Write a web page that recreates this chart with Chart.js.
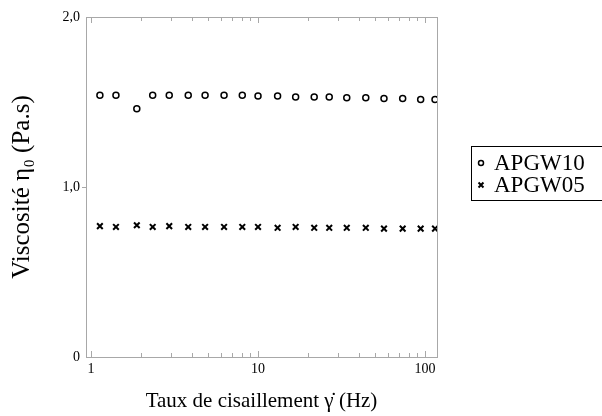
<!DOCTYPE html>
<html>
<head>
<meta charset="utf-8">
<script src="https://cdn.jsdelivr.net/npm/chart.js@4.4.0/dist/chart.umd.min.js"></script>
<style>
  html, body { margin: 0; padding: 0; background: #fff; }
  #wrap { width: 602px; height: 416px; position: relative; }
</style>
</head>
<body>
<div id="wrap"><canvas id="c"></canvas></div>
<script>
// Taux de cisaillement (Hz)
const taux = [1.13, 1.41, 1.88, 2.34, 2.94, 3.82, 4.82, 6.26, 8.05, 10.0,
              13.1, 16.8, 21.7, 26.7, 34.0, 44.2, 56.8, 73.5, 94.2, 114.8];
// Viscosité (Pa.s)
const apgw10 = [1.54, 1.54, 1.46, 1.54, 1.54, 1.54, 1.54, 1.54, 1.54, 1.535,
                1.535, 1.53, 1.53, 1.53, 1.525, 1.525, 1.52, 1.52, 1.515, 1.515];
const apgw05 = [0.77, 0.765, 0.775, 0.765, 0.77, 0.765, 0.765, 0.765, 0.765, 0.765,
                0.76, 0.765, 0.76, 0.76, 0.76, 0.76, 0.755, 0.755, 0.755, 0.755];
const nomsSeries = ['APGW10', 'APGW05'];
const xTicks = [1, 10, 100];
const yTicks = [0, 1, 2];
const yTickLabels = ['0', '1,0', '2,0'];

const POLICE = "'Liberation Serif', 'Times New Roman', serif";
const GRIS = '#a8a8a8';

function points(ys) {
    return ys.map((y, i) => ({ x: taux[i], y: y }));
}

// Cadre gris et petites graduations logarithmiques
const cadre = {
    id: 'cadre',
    beforeDatasetsDraw(chart) {
        const { ctx, chartArea: a, scales: { x, y } } = chart;
        ctx.save();
        ctx.strokeStyle = GRIS;
        ctx.lineWidth = 1;
        ctx.strokeRect(Math.round(a.left) + 0.5, Math.round(a.top) + 0.5,
                       Math.round(a.right - a.left), Math.round(a.bottom - a.top));
        ctx.beginPath();
        for (let dec = 1; dec <= 100; dec *= 10) {
            for (let k = 1; k <= 9; k++) {
                const v = k * dec;
                if (v > x.max) break;
                const px = Math.round(x.getPixelForValue(v)) + 0.5;
                const l = k === 1 ? 6 : 4;
                ctx.moveTo(px, a.bottom);
                ctx.lineTo(px, a.bottom - l);
                ctx.moveTo(px, a.top);
                ctx.lineTo(px, a.top + l);
            }
        }
        const py = Math.round(y.getPixelForValue(1)) + 0.5;
        ctx.moveTo(a.left - 4, py);
        ctx.lineTo(a.left, py);
        ctx.stroke();
        ctx.restore();
    }
};

// Légende encadrée à droite
const legendeCadre = {
    id: 'legendeCadre',
    afterDraw(chart) {
        const ctx = chart.ctx;
        ctx.save();
        ctx.strokeStyle = '#000';
        ctx.lineWidth = 1;
        ctx.strokeRect(471.5, 146.5, 140, 54);
        ctx.font = "23px " + POLICE;
        ctx.textBaseline = 'middle';
        chart.data.datasets.forEach((ds, i) => {
            const yy = 163 + i * 22;
            ctx.strokeStyle = ds.borderColor;
            ctx.fillStyle = ds.backgroundColor;
            ctx.lineWidth = ds.borderWidth;
            Chart.helpers.drawPoint(ctx, {
                pointStyle: ds.pointStyle,
                radius: ds.pointRadius - 0.5,
                borderWidth: ds.borderWidth
            }, 481, yy);
            ctx.fillStyle = '#000';
            ctx.fillText(ds.label, 494, yy + 1);
        });
        ctx.restore();
    }
};

new Chart(document.getElementById('c'), {
    type: 'scatter',
    data: {
        datasets: [{
            label: nomsSeries[0],
            data: points(apgw10),
            pointStyle: 'circle',
            pointRadius: 3,
            borderWidth: 1.5,
            borderColor: '#000',
            backgroundColor: '#fff'
        }, {
            label: nomsSeries[1],
            data: points(apgw05),
            pointStyle: 'crossRot',
            pointRadius: 4,
            borderWidth: 2,
            borderColor: '#000',
            backgroundColor: '#000'
        }]
    },
    options: {
        responsive: true,
        maintainAspectRatio: false,
        animation: false,
        layout: { padding: { top: 17, right: 165, left: 0, bottom: 0 } },
        plugins: {
            legend: { display: false },
            tooltip: { enabled: false }
        },
        scales: {
            x: {
                type: 'logarithmic',
                min: 0.933,
                max: 118,
                grid: { display: false, drawTicks: false },
                border: { display: false },
                afterBuildTicks: s => { s.ticks = xTicks.map(v => ({ value: v })); },
                afterFit: s => { s.height = 59; },
                ticks: {
                    autoSkip: false,
                    maxRotation: 0,
                    padding: 4,
                    color: '#000',
                    font: { family: POLICE, size: 14 },
                    callback: v => String(v)
                },
                title: {
                    display: true,
                    text: 'Taux de cisaillement γ̇ (Hz)',
                    color: '#000',
                    font: { family: POLICE, size: 21 },
                    padding: { top: 0, bottom: 2 }
                }
            },
            y: {
                min: 0,
                max: 2,
                grid: { display: false, drawTicks: false },
                border: { display: false },
                afterBuildTicks: s => { s.ticks = yTicks.map(v => ({ value: v })); },
                afterFit: s => { s.width = 86; },
                ticks: {
                    padding: 6,
                    color: '#000',
                    font: { family: POLICE, size: 14 },
                    callback: (v, i) => yTickLabels[i]
                },
                title: {
                    display: true,
                    text: 'Viscosité η₀ (Pa.s)',
                    color: '#000',
                    font: { family: POLICE, size: 25 },
                    padding: { top: 7, bottom: 0 }
                }
            }
        }
    },
    plugins: [cadre, legendeCadre]
});
</script>
</body>
</html>
